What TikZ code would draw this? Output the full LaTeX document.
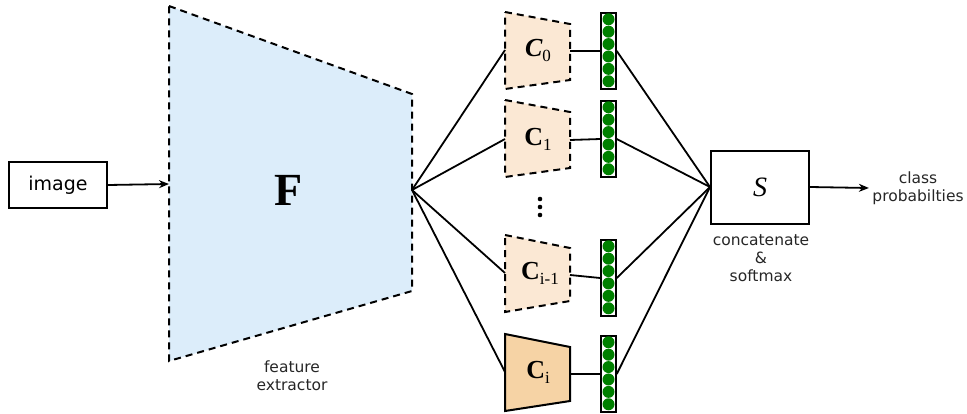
\documentclass[tikz,border=0pt]{standalone}
\usepackage{fontspec}
\setmainfont{DejaVu Sans}
\newfontfamily\timesfont{Liberation Serif}
\usetikzlibrary{arrows.meta}
\usetikzlibrary{calc}
\usetikzlibrary{positioning}
\definecolor{featureblue}{RGB}{220, 237, 250}
\definecolor{headpeach}{RGB}{251, 232, 212}
\definecolor{headtan}{RGB}{246, 211, 165}
\definecolor{neurongreen}{RGB}{0, 128, 0}

\newcommand{\headlabel}[2]{{\timesfont\fontsize{26}{26}\selectfont\bfseries #1}{\timesfont\fontsize{17}{17}\selectfont\raisebox{-5pt}{#2}}}

\tikzset{
  smalltext/.style={font=\fontsize{15.5}{18}\selectfont, align=center, text=black!85},
  dashedhead/.style={dash pattern=on 7pt off 5pt, line width=2pt, fill=headpeach},
  neuroncol/.style={draw, line width=1.5pt, fill=white, minimum width=15pt, minimum height=76pt, inner sep=0pt},
  link/.style={line width=1.8pt},
  flow/.style={line width=1.8pt, -{Stealth[length=10pt, width=8pt]}}
}

\begin{document}
\begin{tikzpicture}[x=1pt, y=-1pt]
  \useasboundingbox (0,0) rectangle (967,413);

  % Input
  \node[draw, line width=1.2pt, minimum width=98pt, minimum height=46pt, font=\fontsize{19}{19}\selectfont] (image) at (58,185) {image};

  % Feature extractor
  \draw[dash pattern=on 7pt off 5pt, line width=2pt, fill=featureblue] (169,6) -- (412,94) -- (412,291) -- (169,361) -- cycle;
  \coordinate (Fin)  at (169,184);
  \coordinate (Fout) at (412,190);
  \node[font=\timesfont\fontsize{46}{46}\selectfont\bfseries] (F) at (289,190) {F};
  \node[smalltext] (Flabel) at (292,376) {feature\\extractor};
  \draw[flow] (image.east) -- (Fin);

  % Classifier heads
  \draw[dashedhead] (505,12)  -- (570,24)  -- (570,80)  -- (505,89)  -- cycle;
  \draw[dashedhead] (505,100) -- (570,112) -- (570,168) -- (505,177) -- cycle;
  \draw[dashedhead] (505,235) -- (570,248) -- (570,301) -- (505,312) -- cycle;
  \draw[line width=2pt, fill=headtan] (505,334) -- (570,347) -- (570,401) -- (505,411) -- cycle;
  \node (c0)   at (538,50)  {\headlabel{\itshape C}{0}};
  \node (c1)   at (538,139) {\headlabel{C}{1}};
  \node (cim1) at (540,273) {\headlabel{C}{i-1}};
  \node (ci)   at (538,372) {\headlabel{C}{i}};
  % dots between the heads
  \foreach \y in {199,207,215}
    \fill (540,\y) circle (2.3pt);

  \coordinate (c0-in)   at (505,50);
  \coordinate (c1-in)   at (505,139);
  \coordinate (cim1-in) at (505,273);
  \coordinate (ci-in)   at (505,372);
  \coordinate (c0-out)   at (570,51);
  \coordinate (c1-out)   at (570,140);
  \coordinate (cim1-out) at (570,275);
  \coordinate (ci-out)   at (570,374);

  % Output neurons
  \node[neuroncol] (col0)   at (608.5,51)  {};
  \node[neuroncol] (col1)   at (608.5,139) {};
  \node[neuroncol] (colim1) at (608.5,278) {};
  \node[neuroncol] (coli)   at (608.5,374) {};
  \foreach \col in {col0, col1, colim1, coli}
    \foreach \k in {0,...,5}
      \fill[neurongreen] ($(\col.north)+(0,7+12.4*\k)$) circle (6pt);

  % Softmax
  \node[draw, line width=2pt, minimum width=98pt, minimum height=73pt, font=\timesfont\itshape\fontsize{28}{28}\selectfont] (S) at (760,187) {S};
  \node[smalltext] (Slabel) at (761,258) {concatenate\\\&\\softmax};
  \node[smalltext] (out) at (918,188) {class\\probabilties};
  \draw[flow] (S.east) -- (out.west);

  % Connectors
  \foreach \h in {c0, c1, cim1, ci}
    \draw[link] (Fout) -- (\h-in);
  \draw[link] (c0-out)   -- (col0.west);
  \draw[link] (c1-out)   -- (col1.west);
  \draw[link] (cim1-out) -- (colim1.west);
  \draw[link] (ci-out)   -- (coli.west);
  \foreach \col in {col0, col1, colim1, coli}
    \draw[link] (\col.east) -- (S.west);
\end{tikzpicture}
\end{document}
